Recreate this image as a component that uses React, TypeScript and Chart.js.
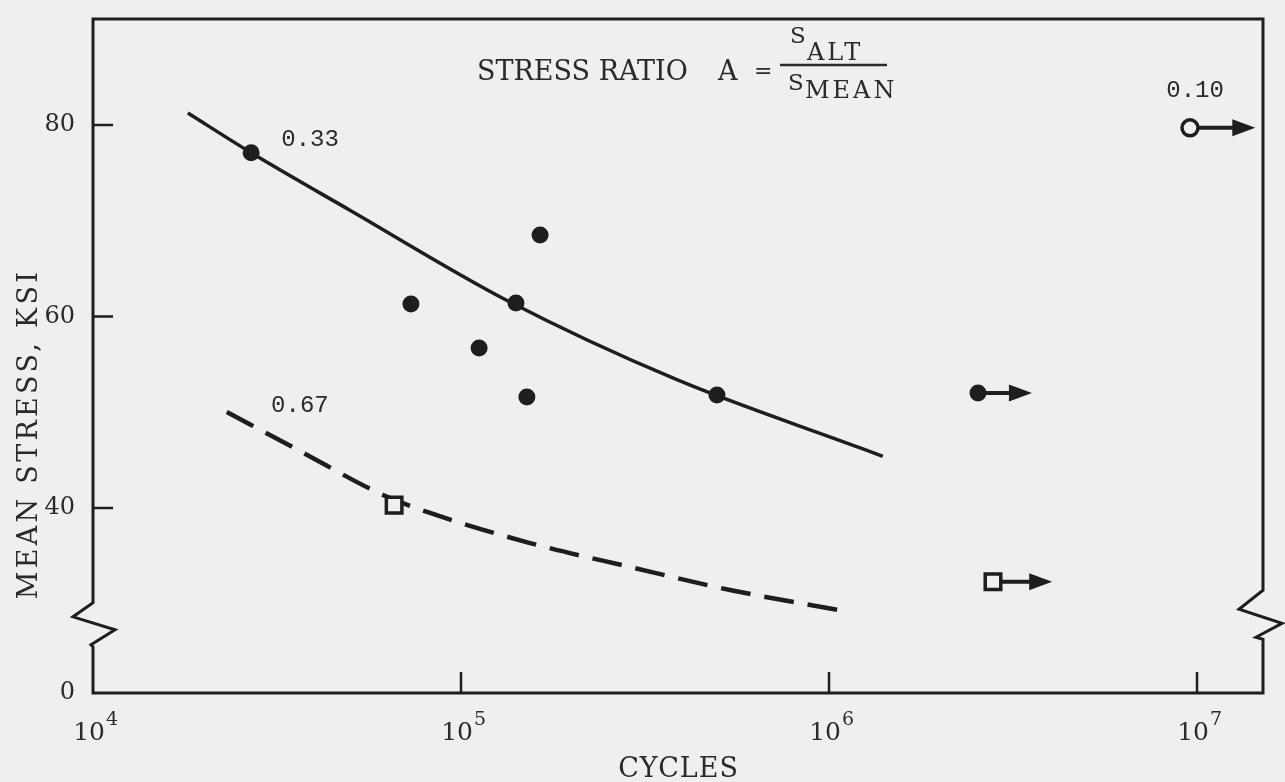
import React, { useEffect, useRef } from 'react';
import { Chart, registerables } from 'chart.js';

Chart.register(...registerables);

// ---- Data ----
// Fitted curve, stress ratio A = 0.33 (solid)
const curve033Cycles = [18100, 26900, 49900, 133000, 386000, 1210000, 1400000];
const curve033Stress = [81.25, 77.1, 71.1, 61.7, 53.4, 46.3, 45.4];
// Fitted curve, stress ratio A = 0.67 (dashed)
const curve067Cycles = [23100, 36500, 61400, 82400, 154000, 288000, 538000, 1060000];
const curve067Stress = [50.03, 45.95, 41.36, 39.48, 36.34, 33.84, 31.44, 29.35];
// Failures, A = 0.33 (filled circles)
const fail033Cycles = [26900, 73100, 112000, 141000, 164000, 151000, 496000];
const fail033Stress = [77.1, 61.3, 56.7, 61.4, 68.5, 51.6, 51.8];
// Failures, A = 0.67 (open squares)
const fail067Cycles = [65800];
const fail067Stress = [40.3];
// Run-outs (did not fail) with arrows
const runoutCycles = [2540000, 9570000, 2790000];
const runoutStress = [52.0, 79.7, 32.3];
const runoutArrowTo = [3560000, 14400000, 4040000];
const runoutRatio = ['0.33', '0.10', '0.67'];
// Curve labels
const ratioLabels = ['0.33', '0.67', '0.10'];
const ratioLabelCycles = [38900, 36500, 9880000];
const ratioLabelStress = [78.5, 50.65, 83.55];
// Axis ticks
const yTickValues = [40, 60, 80];
const xDecades = [1e4, 1e5, 1e6, 1e7];
const xDecadeExponents = ['4', '5', '6', '7'];

// ---- Axis ranges ----
const X_MIN = 1e4;
const X_MAX = 1.511e7;
const Y_MIN = 20.68; // shown as "0" below the axis break
const Y_MAX = 91.07;
const BREAK_LEFT = 27.8;
const BREAK_RIGHT = 28.9;

// ---- Styles ----
const INK = '#1e1e1e';
const TEXT = '#2a2a2a';
const BG = '#efefef';
const SERIF = '"DejaVu Serif", "Liberation Serif", serif';
const MONO = '"Liberation Mono", "DejaVu Sans Mono", monospace';

const runoutStyles: Record<string, { style: string; radius: number; fill: string; border: number }> = {
  '0.33': { style: 'circle', radius: 8.5, fill: INK, border: 0 },
  '0.10': { style: 'circle', radius: 8, fill: BG, border: 3.5 },
  '0.67': { style: 'rect', radius: 11, fill: BG, border: 3.5 },
};

const zip = (xs: number[], ys: number[]) => xs.map((x, i) => ({ x, y: ys[i] }));

const decorPlugin = {
  id: 'decor',
  beforeDraw(chart: any) {
    const { ctx, width, height } = chart;
    ctx.save();
    ctx.fillStyle = BG;
    ctx.fillRect(0, 0, width, height);
    ctx.restore();
  },
  beforeDatasetsDraw(chart: any) {
    const { ctx, chartArea } = chart;
    const xs = chart.scales.x;
    const ys = chart.scales.y;
    const { left, right, top, bottom } = chartArea;
    ctx.save();
    ctx.strokeStyle = INK;
    ctx.lineWidth = 3;
    ctx.lineJoin = 'miter';
    ctx.lineCap = 'butt';
    // frame with axis-break zigzags
    const bl = ys.getPixelForValue(BREAK_LEFT);
    const br = ys.getPixelForValue(BREAK_RIGHT);
    ctx.beginPath();
    ctx.moveTo(right, top);
    ctx.lineTo(left, top);
    ctx.lineTo(left, bl - 22);
    ctx.lineTo(left - 20, bl - 8);
    ctx.lineTo(left + 22, bl + 5);
    ctx.lineTo(left - 2, bl + 20);
    ctx.lineTo(left, bl + 22);
    ctx.lineTo(left, bottom);
    ctx.lineTo(right, bottom);
    ctx.lineTo(right, br + 25);
    ctx.lineTo(right - 7, br + 23);
    ctx.lineTo(right + 19, br + 9);
    ctx.lineTo(right - 24, br - 5);
    ctx.lineTo(right, br - 24);
    ctx.closePath();
    ctx.stroke();
    // inward tick marks
    ctx.lineWidth = 2.5;
    ctx.beginPath();
    yTickValues.forEach((v) => {
      const py = ys.getPixelForValue(v);
      ctx.moveTo(left, py);
      ctx.lineTo(left + 20, py);
    });
    xDecades.slice(1).forEach((v) => {
      const px = xs.getPixelForValue(v);
      ctx.moveTo(px, bottom);
      ctx.lineTo(px, bottom - 21);
    });
    ctx.stroke();
    // run-out arrows
    ctx.fillStyle = INK;
    runoutCycles.forEach((c, i) => {
      const px = xs.getPixelForValue(c);
      const py = ys.getPixelForValue(runoutStress[i]);
      const ex = xs.getPixelForValue(runoutArrowTo[i]);
      ctx.lineWidth = 4;
      ctx.beginPath();
      ctx.moveTo(px, py);
      ctx.lineTo(ex - 18, py);
      ctx.stroke();
      ctx.beginPath();
      ctx.moveTo(ex - 23, py - 8.5);
      ctx.lineTo(ex, py);
      ctx.lineTo(ex - 23, py + 8.5);
      ctx.closePath();
      ctx.fill();
    });
    ctx.restore();
  },
  afterDraw(chart: any) {
    const { ctx, chartArea } = chart;
    const xs = chart.scales.x;
    const ys = chart.scales.y;
    const { left, top, bottom } = chartArea;
    ctx.save();
    ctx.fillStyle = TEXT;
    ctx.strokeStyle = TEXT;
    ctx.textBaseline = 'alphabetic';
    ctx.textAlign = 'left';

    // x decade labels 10^n
    xDecades.forEach((v, i) => {
      const px = xs.getPixelForValue(v);
      ctx.font = `25px ${SERIF}`;
      ctx.textAlign = 'right';
      ctx.fillText('10', px + 12, bottom + 47);
      ctx.font = `19px ${SERIF}`;
      ctx.textAlign = 'left';
      ctx.fillText(xDecadeExponents[i], px + 13, bottom + 32);
    });

    // axis titles
    (ctx as any).letterSpacing = '1px';
    ctx.font = `27px ${SERIF}`;
    ctx.textAlign = 'center';
    ctx.fillText('CYCLES', xs.getPixelForValue(3.9e5), bottom + 84);

    ctx.save();
    (ctx as any).letterSpacing = '3.3px';
    ctx.translate(left - 63, top + 415);
    ctx.rotate(-Math.PI / 2);
    ctx.textBaseline = 'middle';
    ctx.fillText('MEAN STRESS, KSI', 0, 0);
    ctx.restore();

    // title with fraction
    (ctx as any).letterSpacing = '0px';
    ctx.textAlign = 'left';
    ctx.textBaseline = 'alphabetic';
    ctx.font = `27px ${SERIF}`;
    ctx.fillText('STRESS RATIO', left + 384, top + 61);
    ctx.fillText('A', left + 625, top + 61);
    ctx.font = `22px ${SERIF}`;
    ctx.fillText('=', left + 661, top + 59);
    ctx.font = `23px ${SERIF}`;
    ctx.fillText('S', left + 697, top + 24);
    ctx.fillText('S', left + 695, top + 71);
    (ctx as any).letterSpacing = '3px';
    ctx.font = `24px ${SERIF}`;
    ctx.fillText('ALT', left + 714, top + 41);
    ctx.fillText('MEAN', left + 712, top + 79);
    ctx.lineWidth = 2.5;
    ctx.beginPath();
    ctx.moveTo(left + 687, top + 46);
    ctx.lineTo(left + 794, top + 46);
    ctx.stroke();

    // stress-ratio curve labels
    (ctx as any).letterSpacing = '0px';
    ctx.font = `24px ${MONO}`;
    ctx.textAlign = 'center';
    ctx.textBaseline = 'middle';
    ratioLabels.forEach((t, i) => {
      ctx.fillText(t, xs.getPixelForValue(ratioLabelCycles[i]), ys.getPixelForValue(ratioLabelStress[i]));
    });
    ctx.restore();
  },
};

export default function App() {
  const canvasRef = useRef<HTMLCanvasElement | null>(null);

  useEffect(() => {
    document.body.style.margin = '0';
    document.body.style.background = BG;
    const canvas = canvasRef.current;
    if (!canvas) return;
    const chart = new Chart(canvas, {
      type: 'scatter',
      data: {
        datasets: [
          {
            label: 'Failure, A = 0.33',
            data: zip(fail033Cycles, fail033Stress),
            showLine: false,
            pointStyle: 'circle',
            pointRadius: 8.5,
            pointBackgroundColor: INK,
            pointBorderColor: INK,
            pointBorderWidth: 0,
            order: 0,
          },
          {
            label: 'Failure, A = 0.67',
            data: zip(fail067Cycles, fail067Stress),
            showLine: false,
            pointStyle: 'rect',
            pointRadius: 11,
            pointBackgroundColor: BG,
            pointBorderColor: INK,
            pointBorderWidth: 3.5,
            order: 0,
          },
          {
            label: 'Run-out',
            data: zip(runoutCycles, runoutStress),
            showLine: false,
            pointStyle: runoutRatio.map((r) => runoutStyles[r].style) as any,
            pointRadius: runoutRatio.map((r) => runoutStyles[r].radius),
            pointBackgroundColor: runoutRatio.map((r) => runoutStyles[r].fill),
            pointBorderColor: INK,
            pointBorderWidth: runoutRatio.map((r) => runoutStyles[r].border),
            order: 0,
          },
          {
            label: 'A = 0.33',
            data: zip(curve033Cycles, curve033Stress),
            showLine: true,
            fill: false,
            pointRadius: 0,
            borderColor: INK,
            borderWidth: 3.5,
            cubicInterpolationMode: 'monotone',
            order: 1,
          },
          {
            label: 'A = 0.67',
            data: zip(curve067Cycles, curve067Stress),
            showLine: true,
            fill: false,
            pointRadius: 0,
            borderColor: INK,
            borderWidth: 4.5,
            borderDash: [30, 14],
            cubicInterpolationMode: 'monotone',
            order: 1,
          },
        ] as any,
      },
      options: {
        animation: false,
        responsive: true,
        maintainAspectRatio: false,
        events: [],
        layout: { padding: { top: 19, right: 22, left: 0, bottom: 0 } },
        plugins: {
          legend: { display: false },
          tooltip: { enabled: false },
          title: { display: false },
        },
        scales: {
          x: {
            type: 'logarithmic',
            min: X_MIN,
            max: X_MAX,
            grid: { display: false, drawTicks: false },
            border: { display: false },
            ticks: { display: false },
            afterFit: (s: any) => {
              s.height = 89;
              s.paddingLeft = 0;
              s.paddingRight = 0;
            },
          },
          y: {
            type: 'linear',
            min: Y_MIN,
            max: Y_MAX,
            grid: { display: false, drawTicks: false },
            border: { display: false },
            afterBuildTicks: (s: any) => {
              s.ticks = [Y_MIN, ...yTickValues].map((v) => ({ value: v }));
            },
            ticks: {
              padding: 18,
              color: TEXT,
              font: { family: SERIF, size: 24 },
              callback: (v: any) => (v === Y_MIN ? '0' : String(v)),
            },
            afterFit: (s: any) => {
              s.width = 93;
              s.paddingTop = 0;
              s.paddingBottom = 0;
            },
          },
        },
      },
      plugins: [decorPlugin],
    });
    return () => chart.destroy();
  }, []);

  return (
    <div style={{ width: 1285, height: 782, position: 'relative', background: BG }}>
      <canvas ref={canvasRef} />
    </div>
  );
}
